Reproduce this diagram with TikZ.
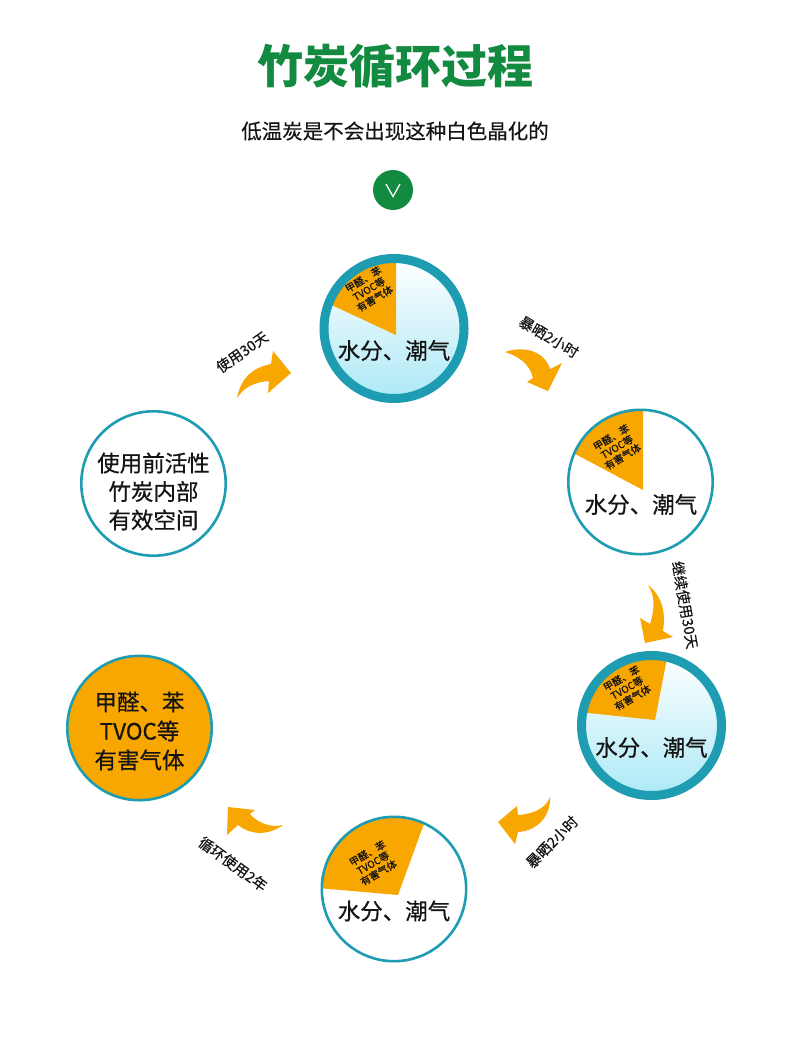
\documentclass[tikz,border=0pt]{standalone}
\usepackage{fontspec}
\setmainfont{Noto Sans CJK SC}
\newfontfamily\medf{Noto Sans CJK SC}[FakeBold=0.6]
\newfontfamily\semif{Noto Sans CJK SC}[FakeBold=0.3]
\definecolor{ringc}{RGB}{30,156,178}
\definecolor{orng}{RGB}{248,166,0}
\definecolor{grn}{RGB}{18,138,64}
\definecolor{lblue}{RGB}{172,233,246}
\definecolor{ink}{RGB}{20,20,20}
\tikzset{
  ringthick/.style={draw=ringc, line width=9pt},
  ringthin/.style={draw=ringc, line width=2.6pt},
  sectortxt/.style={font=\semif\fontsize{10}{11.2}\selectfont, text=ink, align=center, inner sep=0pt},
  maintxt/.style={font=\medf\fontsize{22.5}{29}\selectfont, text=ink, align=center, inner sep=0pt},
  lbl/.style={font=\semif\fontsize{14.5}{16}\selectfont, text=ink, inner sep=0pt},
  arrowfill/.style={fill=orng},
  spot/.style={circle, inner sep=0pt, minimum size=2pt}
}
\begin{document}
\begin{tikzpicture}[x=1pt,y=-1pt]
\useasboundingbox[fill=white] (0,0) rectangle (790,1052);

% title
\node[font=\fontsize{46}{50}\selectfont\bfseries, text=grn] (title) at (395,66) {竹炭循环过程};
\node[font=\semif\fontsize{20.5}{24}\selectfont, text=ink] (sub) at (395,131) {低温炭是不会出现这种白色晶化的};
\node[circle, fill=grn, minimum size=40pt, inner sep=0pt] (chk) at (393,190) {};
\draw[white, line width=1.3pt] ([shift={(-7pt,6pt)}]chk.center) -- ([shift={(0pt,-6.5pt)}]chk.center) -- ([shift={(7pt,6pt)}]chk.center);

% circle centres
\node[spot] (c1) at (394,328.5) {};
\node[spot] (c2) at (640.5,482) {};
\node[spot] (c3) at (651.5,725.5) {};
\node[spot] (c4) at (394,889) {};
\node[spot] (c5) at (153.5,483.5) {};
\node[spot] (c6) at (139.5,728) {};

% ---- circle 1 (thick ring, blue) ----
\shade[top color=white, bottom color=lblue] (c1.center) circle (70pt);
\begin{scope}
  \clip (c1.center) circle (70pt);
  \fill[orng] (396,335) -- +(90:160pt) -- +(122:200pt) -- +(155:160pt) -- cycle;
\end{scope}
\draw[ringthick] (c1.center) circle (70pt);
\node[sectortxt, rotate=31] (s1) at (369,289) {甲醛、苯\\TVOC等\\有害气体};
\node[maintxt] (m1) at (394,350.5) {水分、潮气};

% ---- circle 2 (thin ring, white) ----
\fill[white] (c2.center) circle (72.2pt);
\begin{scope}
  \clip (c2.center) circle (72.2pt);
  \fill[orng] (643,490) -- +(90:160pt) -- +(121:200pt) -- +(152:160pt) -- cycle;
\end{scope}
\draw[ringthin] (c2.center) circle (72.2pt);
\node[sectortxt, rotate=31] (s2) at (617,447) {甲醛、苯\\TVOC等\\有害气体};
\node[maintxt] (m2) at (641,504.5) {水分、潮气};

% ---- circle 3 (thick ring, blue) ----
\shade[top color=white, bottom color=lblue] (c3.center) circle (70pt);
\begin{scope}
  \clip (c3.center) circle (70pt);
  \fill[orng] (655,720) -- +(79:160pt) -- +(126:200pt) -- +(174:160pt) -- cycle;
\end{scope}
\draw[ringthick] (c3.center) circle (70pt);
\node[sectortxt, rotate=30] (s3) at (627,688) {甲醛、苯\\TVOC等\\有害气体};
\node[maintxt] (m3) at (651.5,747.5) {水分、潮气};

% ---- circle 4 (thin ring, white) ----
\fill[white] (c4.center) circle (72.2pt);
\begin{scope}
  \clip (c4.center) circle (72.2pt);
  \fill[orng] (398,895) -- +(70:160pt) -- +(122:200pt) -- +(175:160pt) -- cycle;
\end{scope}
\draw[ringthin] (c4.center) circle (72.2pt);
\node[sectortxt, rotate=30] (s4) at (373,863) {甲醛、苯\\TVOC等\\有害气体};
\node[maintxt] (m4) at (394,911) {水分、潮气};

% ---- circle 5 (left, white) ----
\fill[white] (c5.center) circle (72.2pt);
\draw[ringthin] (c5.center) circle (72.2pt);
\node[maintxt, font=\medf\fontsize{22.5}{28.5}\selectfont] (m5) at (153.5,491.5) {使用前活性\\竹炭内部\\有效空间};

% ---- circle 6 (orange) ----
\fill[orng] (c6.center) circle (72.2pt);
\draw[ringthin] (c6.center) circle (72.2pt);
\node[maintxt] (m6) at (139.5,731) {甲醛、苯\\TVOC等\\有害气体};

% ---- curved arrows ----
\fill[arrowfill] (237,398) .. controls (241,378) and (252,368) .. (271,364)
  -- (273,351) -- (291,373) -- (268,393) -- (269,381)
  .. controls (256,382) and (245,386) .. (237,398) -- cycle;
\fill[arrowfill] (505,352) .. controls (525,345) and (545,352) .. (550,369)
  -- (562,363) -- (548,391) -- (527,382) -- (533,378)
  .. controls (530,364) and (518,356) .. (505,352) -- cycle;
\fill[arrowfill] (648,585) .. controls (662,596) and (666,612) .. (663,631)
  -- (673,637) -- (645,643) -- (640,618) -- (650,624)
  .. controls (655,608) and (655,596) .. (648,585) -- cycle;
\fill[arrowfill] (550,797) .. controls (551,815) and (538,831) .. (518,832)
  -- (515,844) -- (498,822) -- (517,806) -- (518,815)
  .. controls (534,814) and (546,808) .. (550,797) -- cycle;
\fill[arrowfill] (283,825) .. controls (268,836) and (250,835) .. (238,825)
  -- (227,835) -- (228,807) -- (255,810) -- (250,814)
  .. controls (258,823) and (270,828) .. (283,825) -- cycle;

% ---- arrow labels ----
\node[lbl, rotate=35] (l1) at (242,352) {使用30天};
\node[lbl, rotate=-31] (l2) at (549,337) {暴晒2小时};
\node[lbl, rotate=-80] (l3) at (685,605) {继续使用30天};
\node[lbl, rotate=45] (l4) at (552,842) {暴晒2小时};
\node[lbl, rotate=-36] (l5) at (233,864) {循环使用2年};
\end{tikzpicture}
\end{document}
